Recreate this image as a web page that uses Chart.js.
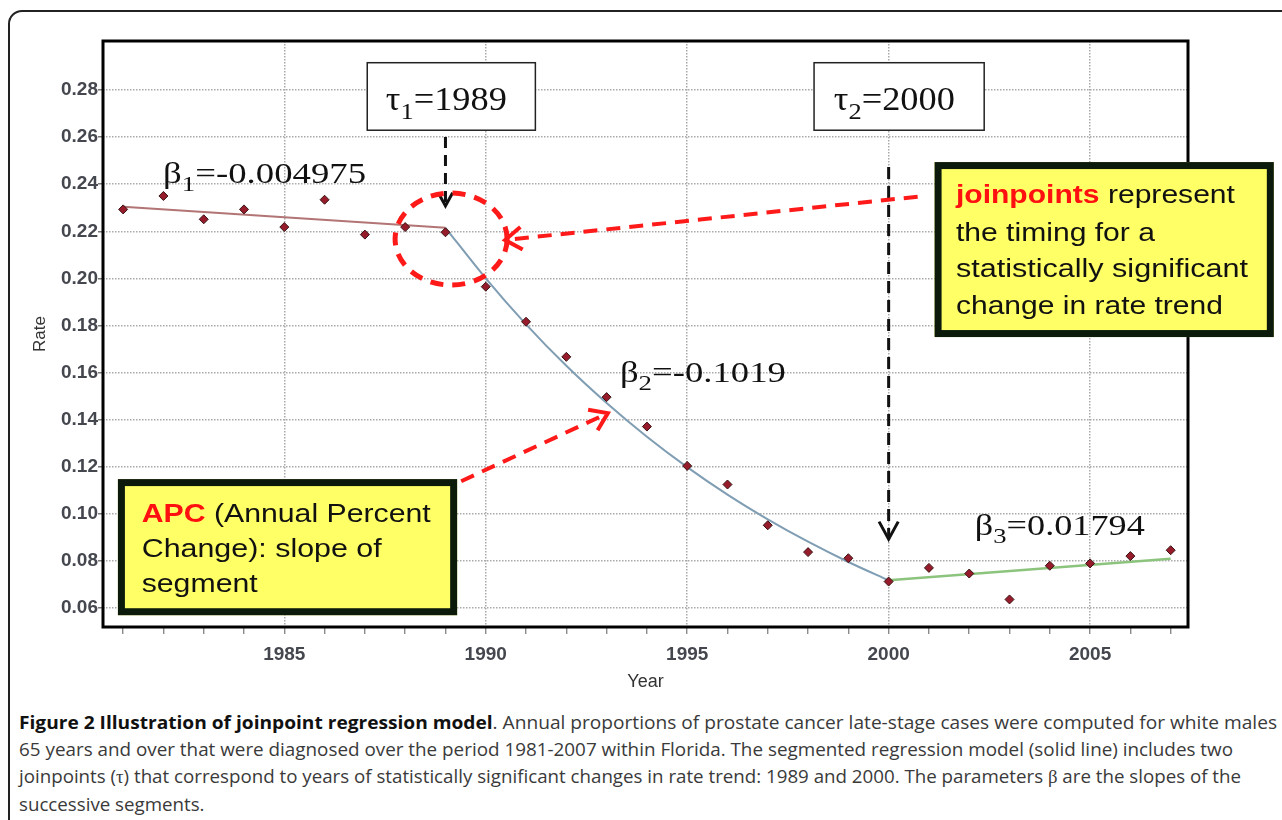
<!DOCTYPE html>
<html>
<head>
<meta charset="utf-8">
<script src="https://cdn.jsdelivr.net/npm/chart.js@4.4.1/dist/chart.umd.min.js"></script>
<style>
  html, body { margin: 0; padding: 0; background: #fff; width: 1282px; height: 820px; overflow: hidden; }
  #frame { position: absolute; left: 8px; top: 10px; width: 1330px; height: 900px; border: 2px solid #222; border-radius: 14px; box-sizing: border-box; }
  #chart { position: absolute; left: 0; top: 0; }
  #caption { position: absolute; left: 19px; top: 709px; font-family: "Open Sans", sans-serif; font-size: 18px; line-height: 27px; color: #3a3a3a; }
  #caption div { white-space: nowrap; width: max-content; transform-origin: 0 0; }
  #caption b { color: #111; }
  .gr { font-family: "Liberation Serif", serif; }
</style>
</head>
<body>
<div id="frame"></div>
<canvas id="chart" width="1282" height="700"></canvas>
<div id="caption">
  <div><b>Figure 2 Illustration of joinpoint regression model</b>. Annual proportions of prostate cancer late-stage cases were computed for white males</div>
  <div>65 years and over that were diagnosed over the period 1981-2007 within Florida. The segmented regression model (solid line) includes two</div>
  <div>joinpoints (<span class="gr">τ</span>) that correspond to years of statistically significant changes in rate trend: 1989 and 2000. The parameters <span class="gr">β</span> are the slopes of the</div>
  <div>successive segments.</div>
</div>
<script>
// observed annual proportions
const years = [1981, 1982, 1983, 1984, 1985, 1986, 1987, 1988, 1989, 1990, 1991, 1992, 1993, 1994,
  1995, 1996, 1997, 1998, 1999, 2000, 2001, 2002, 2003, 2004, 2005, 2006, 2007];
const rates = [0.2293, 0.2350, 0.2251, 0.2293, 0.2218, 0.2334, 0.2186, 0.2218, 0.2196, 0.1965,
  0.1816, 0.1667, 0.1496, 0.1371, 0.1204, 0.1125, 0.0952, 0.0838, 0.0812, 0.0713,
  0.0771, 0.0747, 0.0637, 0.0780, 0.0790, 0.0821, 0.0846];

// fitted segments
const seg1Years = [1981, 1989];
const seg1Rates = [0.2304, 0.2215];
const seg2Years = [1989, 1990, 1991, 1992, 1993, 1994, 1995, 1996, 1997, 1998, 1999, 2000];
const seg2Rates = [0.2215, 0.2000, 0.1805, 0.1629, 0.1471, 0.1328, 0.1199, 0.1082, 0.0977, 0.0882, 0.0796, 0.0718];
const seg3Years = [2000, 2007];
const seg3Rates = [0.0718, 0.0810];

// axes
const yTicks = [0.06, 0.08, 0.10, 0.12, 0.14, 0.16, 0.18, 0.20, 0.22, 0.24, 0.26, 0.28];
const xLabelYears = [1985, 1990, 1995, 2000, 2005];

const pts = (xs, ys) => xs.map((v, i) => ({ x: v, y: ys[i] }));

const SANS = '"Liberation Sans", Arial, sans-serif';
const SERIF = '"Liberation Serif", "Times New Roman", serif';

// text runs squeezed/stretched to a given width
function drawRuns(ctx, list, x0, y0, width) {
  let w = 0;
  list.forEach(r => { ctx.font = r.font; w += ctx.measureText(r.t).width; });
  const sx = width ? width / w : 1;
  ctx.save();
  ctx.translate(x0, y0);
  ctx.scale(sx, 1);
  ctx.textAlign = "left";
  ctx.textBaseline = "alphabetic";
  let cx = 0;
  list.forEach(r => {
    ctx.font = r.font;
    ctx.fillStyle = r.color || "#111";
    ctx.fillText(r.t, cx, r.dy || 0);
    cx += ctx.measureText(r.t).width;
  });
  ctx.restore();
}

function symbol(ctx, sym, sub, rest, x, y, size, width) {
  drawRuns(ctx, [
    { t: sym, font: size + "px " + SERIF },
    { t: sub, font: Math.round(size * 0.74) + "px " + SERIF, dy: size * 0.26 },
    { t: rest, font: size + "px " + SERIF }
  ], x, y, width);
}

function arrow(ctx, x1, y1, x2, y2, color, lw, dash, head, ang) {
  ctx.save();
  ctx.strokeStyle = color;
  ctx.lineWidth = lw;
  ctx.setLineDash(dash);
  ctx.beginPath();
  ctx.moveTo(x1, y1);
  ctx.lineTo(x2, y2);
  ctx.stroke();
  const t = Math.atan2(y2 - y1, x2 - x1);
  ctx.setLineDash([]);
  ctx.beginPath();
  ctx.moveTo(x2 - head * Math.cos(t - ang), y2 - head * Math.sin(t - ang));
  ctx.lineTo(x2, y2);
  ctx.lineTo(x2 - head * Math.cos(t + ang), y2 - head * Math.sin(t + ang));
  ctx.stroke();
  ctx.restore();
}

function box(ctx, x1, y1, x2, y2, fill, stroke, lw) {
  ctx.save();
  ctx.fillStyle = fill;
  ctx.fillRect(x1, y1, x2 - x1, y2 - y1);
  ctx.strokeStyle = stroke;
  ctx.lineWidth = lw;
  ctx.strokeRect(x1 + lw / 2, y1 + lw / 2, x2 - x1 - lw, y2 - y1 - lw);
  ctx.restore();
}

const notes = {
  id: "notes",
  beforeDatasetsDraw(chart) {
    // keep the plot itself white, the page frame shows round it
    const { ctx, chartArea: a } = chart;
    ctx.save();
    ctx.globalCompositeOperation = "destination-over";
    ctx.fillStyle = "#fff";
    ctx.fillRect(a.left, a.top, a.width, a.height);
    ctx.restore();
  },
  afterDatasetsDraw(chart) {
    const { ctx, chartArea: a, scales: { x, y } } = chart;
    const X = v => x.getPixelForValue(v);
    const Y = v => y.getPixelForValue(v);

    // plot frame
    ctx.save();
    ctx.strokeStyle = "#000";
    ctx.lineWidth = 3;
    ctx.strokeRect(a.left, a.top, a.width, a.height);
    ctx.restore();

    // tau boxes
    box(ctx, X(1987.04), Y(0.2919), X(1991.25), Y(0.2626), "#fff", "#222", 1.5);
    box(ctx, X(1998.13), Y(0.2919), X(2002.39), Y(0.2626), "#fff", "#222", 1.5);
    symbol(ctx, "τ", "1", "=1989", X(1987.52), Y(0.2715), 33, 121);
    symbol(ctx, "τ", "2", "=2000", X(1998.64), Y(0.2715), 33, 121);

    // black dashed arrows to the joinpoints
    arrow(ctx, X(1989), Y(0.2600), X(1989), Y(0.2308), "#111", 3, [11, 7], 15, 0.5);
    arrow(ctx, X(2000), Y(0.2473), X(2000), Y(0.0893), "#111", 3, [12, 7], 20, 0.5);

    // red dashed ellipse round the first joinpoint
    ctx.save();
    ctx.strokeStyle = "#ff1a1a";
    ctx.lineWidth = 5;
    ctx.setLineDash([13, 9]);
    ctx.beginPath();
    ctx.ellipse(X(1989.14), Y(0.2167), 56, 46, 0, 0, Math.PI * 2);
    ctx.stroke();
    ctx.restore();

    // red dashed arrows from the boxes
    arrow(ctx, X(2000.72), Y(0.2347), X(1990.48), Y(0.2163), "#ff1a1a", 4, [14, 9], 20, 0.6);
    arrow(ctx, X(1989.39), Y(0.1139), X(1993.03), Y(0.1428), "#ff1a1a", 4, [14, 9], 20, 0.6);

    // slope labels
    symbol(ctx, "β", "1", "=-0.004975", X(1981.99), Y(0.2404), 30, 203);
    symbol(ctx, "β", "2", "=-0.1019", X(1993.33), Y(0.1561), 30, 166);
    symbol(ctx, "β", "3", "=0.01794", X(2002.14), Y(0.0910), 30, 170);

    // yellow note boxes
    const f = "26px " + SANS, fb = "bold 26px " + SANS;
    box(ctx, X(2001.14), Y(0.2494), X(2009.56), Y(0.1751), "#ffff66", "#0c1a0c", 7);
    const jx = X(2001.67);
    drawRuns(ctx, [{ t: "joinpoints", font: fb, color: "#ff1010" }, { t: " represent", font: f }], jx, Y(0.2320), 279);
    drawRuns(ctx, [{ t: "the timing for a", font: f }], jx, Y(0.2160), 199);
    drawRuns(ctx, [{ t: "statistically significant", font: f }], jx, Y(0.2007), 292);
    drawRuns(ctx, [{ t: "change in rate trend", font: f }], jx, Y(0.1851), 267);

    box(ctx, X(1980.87), Y(0.1148), X(1989.29), Y(0.0570), "#ffff66", "#0c1a0c", 7);
    const ax = X(1981.46);
    drawRuns(ctx, [{ t: "APC", font: fb, color: "#ff1010" }, { t: " (Annual Percent", font: f }], ax, Y(0.0965), 289);
    drawRuns(ctx, [{ t: "Change): slope of", font: f }], ax, Y(0.0816), 240);
    drawRuns(ctx, [{ t: "segment", font: f }], ax, Y(0.0668), 116);
  }
};

const gridGray = "#a9a9a9";
const tickFont = { family: "Liberation Sans", size: 19, weight: "bold" };

new Chart(document.getElementById("chart"), {
  type: "scatter",
  data: {
    datasets: [
      {
        label: "Observed",
        data: pts(years, rates),
        pointStyle: "rectRot",
        pointRadius: 4.5,
        backgroundColor: "#961c2c",
        borderColor: "#3a1515",
        borderWidth: 1,
        order: 0,
      },
      {
        type: "line",
        label: "Segment 1",
        data: pts(seg1Years, seg1Rates),
        borderColor: "#b27474",
        borderWidth: 2,
        pointRadius: 0,
        order: 1,
      },
      {
        type: "line",
        label: "Segment 2",
        data: pts(seg2Years, seg2Rates),
        borderColor: "#7f9db3",
        borderWidth: 2,
        pointRadius: 0,
        tension: 0.3,
        order: 1,
      },
      {
        type: "line",
        label: "Segment 3",
        data: pts(seg3Years, seg3Rates),
        borderColor: "#8cc47e",
        borderWidth: 2.5,
        pointRadius: 0,
        order: 1,
      },
    ],
  },
  options: {
    responsive: false,
    animation: false,
    layout: { padding: { left: 0, top: 41, right: 94, bottom: 0 } },
    plugins: {
      legend: { display: false },
      tooltip: { enabled: false },
    },
    scales: {
      x: {
        type: "linear",
        min: 1980.5,
        max: 2007.43,
        afterBuildTicks: (axis) => { axis.ticks = years.map(v => ({ value: v })); },
        afterFit: (axis) => { axis.height = 73; },
        ticks: {
          autoSkip: false,
          maxRotation: 0,
          padding: 9,
          color: "#45474f",
          font: tickFont,
          callback: (v) => (xLabelYears.includes(v) ? String(v) : ""),
        },
        grid: {
          color: (c) => (c.tick && xLabelYears.includes(c.tick.value) ? gridGray : "rgba(0,0,0,0)"),
          lineWidth: 1.5,
          tickColor: "#777",
          tickLength: 7,
          tickWidth: 1.2,
        },
        border: { display: false, dash: [1.5, 1.5] },
        title: {
          display: true,
          text: "Year",
          color: "#333",
          font: { family: "Liberation Sans", size: 18 },
          padding: { top: 0, bottom: 7 },
        },
      },
      y: {
        min: 0.052,
        max: 0.3008,
        afterBuildTicks: (axis) => { axis.ticks = yTicks.map(v => ({ value: v })); },
        afterFit: (axis) => { axis.width = 103; },
        ticks: {
          padding: 0,
          color: "#45474f",
          font: tickFont,
          callback: (v) => v.toFixed(2),
        },
        grid: {
          color: gridGray,
          lineWidth: 1.5,
          tickColor: "#777",
          tickLength: 5,
        },
        border: { display: false, dash: [1.5, 1.5] },
        title: {
          display: true,
          text: "Rate",
          color: "#333",
          font: { family: "Liberation Sans", size: 17 },
          padding: { top: 30 },
        },
      },
    },
  },
  plugins: [notes],
});

// fit caption lines to the widths in the figure
const capWidths = [1258, 1214, 1222];
const capLines = document.querySelectorAll("#caption div");
let lastScale = 1;
capLines.forEach((el, i) => {
  const w = el.getBoundingClientRect().width;
  const s = capWidths[i] ? capWidths[i] / w : lastScale;
  lastScale = s;
  el.style.transform = "scaleX(" + s + ")";
});
</script>
</body>
</html>
